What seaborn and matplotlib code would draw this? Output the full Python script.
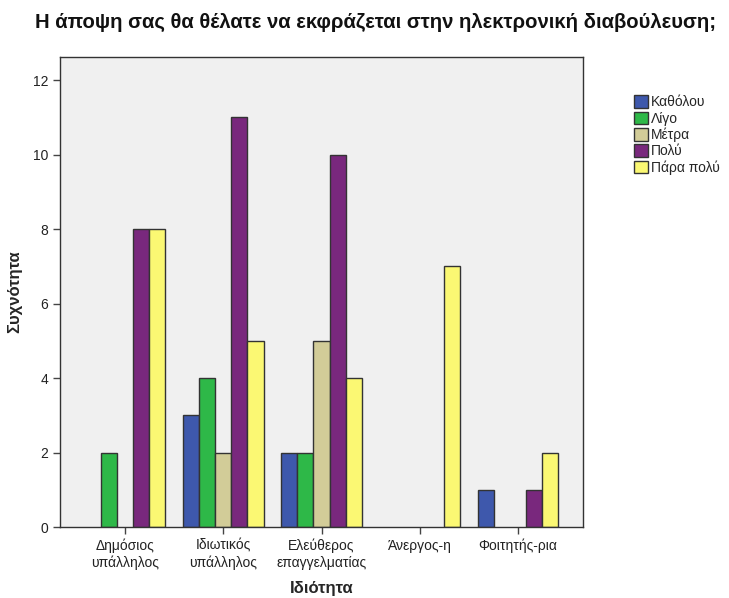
import numpy as np
import pandas as pd
import matplotlib.pyplot as plt
import seaborn as sns

categories = ['Δημόσιος\nυπάλληλος', 'Ιδιωτικός\nυπάλληλος', 'Ελεύθερος\nεπαγγελματίας', 'Άνεργος-η', 'Φοιτητής-ρια']
levels = ['Καθόλου', 'Λίγο', 'Μέτρα', 'Πολύ', 'Πάρα πολύ']
katholou = [0, 3, 2, 0, 1]
ligo = [2, 4, 2, 0, 0]
metra = [0, 2, 5, 0, 0]
poly = [8, 11, 10, 0, 1]
para_poly = [8, 5, 4, 7, 2]
colors = ['#3E58AC', '#2EB848', '#D2CC98', '#79287D', '#FBF873']

rows = []
for lvl, vals in zip(levels, [katholou, ligo, metra, poly, para_poly]):
    for cat, v in zip(categories, vals):
        if v > 0:
            rows.append({'Ιδιότητα': cat, 'Απάντηση': lvl, 'Συχνότητα': v})
df = pd.DataFrame(rows)

sns.set_style('white')
plt.rcParams['font.family'] = ['Liberation Sans', 'DejaVu Sans']

fig = plt.figure(figsize=(7.29, 5.98), dpi=100)
ax = fig.add_axes([0.0823, 0.1187, 0.7175, 0.786])
ax.set_facecolor('#F0F0F0')

sns.barplot(data=df, x='Ιδιότητα', y='Συχνότητα', hue='Απάντηση',
            order=categories, hue_order=levels, palette=colors,
            width=0.82, dodge=True, edgecolor='#333333', linewidth=1.0,
            saturation=1, ax=ax)

ax.set_xlim(-0.66, 4.66)
ax.set_ylim(0, 12.62)
ax.set_yticks([0, 2, 4, 6, 8, 10, 12])
ax.tick_params(axis='both', direction='out', length=5, width=1, color='#444444',
               labelsize=10, labelcolor='#222222', bottom=True, left=True)
for s in ax.spines.values():
    s.set_color('#333333')
    s.set_linewidth(1.0)

ax.set_xlabel('Ιδιότητα', fontsize=12, fontweight='bold')
ax.set_ylabel('Συχνότητα', fontsize=12, fontweight='bold')
ax.xaxis.set_label_coords(0.5, -0.115)
ax.yaxis.set_label_coords(-0.073, 0.5)
fig.text(0.048, 0.962, 'Η άποψη σας θα θέλατε να εκφράζεται στην ηλεκτρονική διαβούλευση;',
         fontsize=14.6, fontweight='bold', va='center', ha='left', color='#111111')

ax.legend(loc='upper left', bbox_to_anchor=(1.087, 0.93), frameon=False,
          fontsize=10, handlelength=1.0, handleheight=1.0, handletextpad=0.2,
          labelspacing=0.15, borderaxespad=0)

fig.savefig('out.png', dpi=100)
